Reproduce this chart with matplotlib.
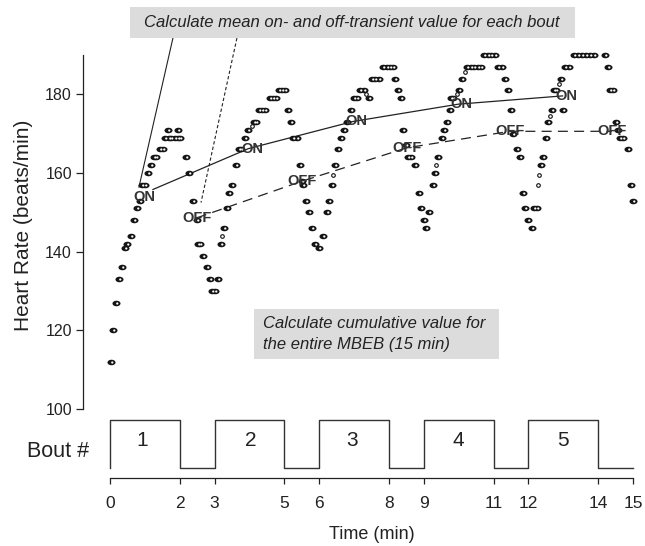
import matplotlib
matplotlib.use("Agg")
import matplotlib.pyplot as plt
from matplotlib.markers import MarkerStyle
from matplotlib.patches import Rectangle
from matplotlib.transforms import Affine2D

plt.rcParams['font.family'] = ['Liberation Sans', 'DejaVu Sans']

# heart rate samples (time in min, HR in beats/min)
time_min = [
    0.02, 0.09, 0.17, 0.27, 0.34, 0.43, 0.50, 0.59, 0.69, 0.78, 0.86, 0.92, 0.99,
    1.10, 1.18, 1.26, 1.33, 1.43, 1.51, 1.59, 1.66, 1.68, 1.76, 1.85, 1.94, 1.95, 2.02,
    2.18, 2.27, 2.37, 2.49, 2.51, 2.58, 2.68, 2.77, 2.87, 2.93, 3.00,
    3.11, 3.18, 3.28, 3.36, 3.42, 3.51, 3.60, 3.69, 3.76, 3.87, 3.97,
    4.13, 4.20, 4.27, 4.36, 4.45, 4.59, 4.67, 4.76, 4.85, 4.93, 5.03,
    5.11, 5.20, 5.26, 5.35, 5.45, 5.51, 5.54, 5.62, 5.70, 5.78, 5.88, 5.99,
    6.12, 6.21, 6.29, 6.36, 6.45, 6.53, 6.62, 6.70, 6.80, 6.91, 7.00, 7.08, 7.18, 7.27,
    7.42, 7.50, 7.61, 7.72, 7.82, 7.93, 8.03, 8.13,
    8.18, 8.27, 8.34, 8.41, 8.50, 8.56, 8.63, 8.75, 8.85, 8.93, 9.00, 9.06,
    9.16, 9.25, 9.32, 9.42, 9.51, 9.59, 9.66, 9.75, 9.79, 9.85, 10.01, 10.10,
    10.24, 10.34, 10.44, 10.54, 10.64, 10.73, 10.83, 10.93, 11.04,
    11.14, 11.24, 11.33, 11.41, 11.49, 11.56, 11.66, 11.76, 11.85, 11.91, 12.00, 12.09,
    12.16, 12.24, 12.35, 12.43, 12.49, 12.57, 12.68, 12.73, 12.80, 12.93, 13.00,
    13.06, 13.16, 13.31, 13.42, 13.54, 13.65, 13.77, 13.88,
    14.20, 14.27, 14.35, 14.43, 14.51, 14.57, 14.64, 14.71, 14.85, 14.93, 15.01,
]
heart_rate = [
    112, 120, 127, 133, 136, 141, 142, 144, 148, 151, 153, 157, 157,
    160, 162, 164, 164, 166, 166, 169, 171, 169, 169, 169, 169, 171, 169,
    164, 160, 153, 148, 142, 142, 139, 136, 133, 130, 130,
    133, 142, 146, 151, 155, 157, 162, 166, 166, 169, 171,
    173, 173, 176, 176, 176, 179, 179, 179, 181, 181, 181,
    176, 173, 169, 169, 162, 158, 157, 153, 150, 146, 142, 141,
    144, 150, 153, 157, 162, 166, 169, 171, 173, 176, 179, 179, 181, 181,
    179, 184, 184, 184, 187, 187, 187, 187,
    184, 181, 179, 171, 167, 164, 164, 162, 155, 151, 148, 146,
    150, 157, 160, 164, 169, 171, 173, 176, 179, 179, 181, 184,
    187, 187, 187, 187, 187, 190, 190, 190, 190,
    187, 187, 184, 181, 176, 170, 166, 164, 155, 151, 148, 146,
    151, 151, 162, 164, 169, 173, 176, 181, 181, 184, 176,
    187, 187, 190, 190, 190, 190, 190, 190,
    190, 187, 181, 181, 173, 171, 169, 169, 166, 157, 153,
]

# a few samples drawn as smaller open circles
small_time = [3.21, 4.06, 6.39, 7.34, 9.35, 9.94, 10.19, 12.28, 12.29, 12.62, 12.87]
small_hr = [144, 172, 159.6, 180, 162, 180, 185.6, 157, 159.5, 174.5, 182.6]

# mean on- and off-transient values per bout
on_time = [1.23, 3.97, 6.97, 9.99, 12.98]
on_hr = [155.8, 166.2, 173.1, 177.5, 179.6]
off_time = [2.49, 5.50, 8.51, 11.47, 14.39]
off_hr = [148.6, 157.9, 166.4, 170.6, 170.6]

# exercise bouts (start, end) in min
bouts = [(0, 2), (3, 5), (6, 8), (9, 11), (12, 14)]
bout_names = ['1', '2', '3', '4', '5']
bout_label_t = [0.92, 4.03, 6.95, 10.0, 13.0]
time_ticks = [0, 2, 3, 5, 6, 8, 9, 11, 12, 14, 15]

INK = '#222222'
TXT = '#333333'

fig = plt.figure(figsize=(6.45, 5.46), dpi=100)
W, H = 645.0, 546.0
PX = 34.87                     # pixels per minute
x_left = -27 / PX
x_right = 15.05
ax_w = (110 + x_right * PX - 83) / W

# --- heart rate panel ---
ax = fig.add_axes([83 / W, 1 - 409 / H, ax_w, 354 / H])
ax.set_xlim(x_left, x_right)
ax.set_ylim(100, 190)
for side in ['top', 'right', 'bottom']:
    ax.spines[side].set_visible(False)
ax.spines['left'].set_color(INK)
ax.spines['left'].set_linewidth(0.9)
ax.set_xticks([])
ax.set_yticks([100, 120, 140, 160, 180])
ax.tick_params(axis='y', length=5, width=0.9, colors=INK, labelsize=11.5, pad=3)
fig.text(24 / W, 1 - 225 / H, 'Heart Rate (beats/min)', rotation=90,
         ha='center', va='center', fontsize=15, color=INK)

# samples: dark ellipse with a small white dot
dot_out = MarkerStyle('o', transform=Affine2D().scale(1.45, 1.0))
dot_in = MarkerStyle('o', transform=Affine2D().translate(0.35, 0))
ax.plot(time_min, heart_rate, linestyle='none', marker=dot_out, ms=4.0,
        mfc='#151515', mec='none', zorder=3, clip_on=False)
ax.plot(time_min, heart_rate, linestyle='none', marker=dot_in, ms=1.6,
        mfc='white', mec='none', zorder=3, clip_on=False)
ax.plot(small_time, small_hr, linestyle='none', marker='o', ms=2.6,
        mfc='white', mec='#111111', mew=0.8, zorder=3)

ax.plot(on_time, on_hr, color=INK, lw=0.9, zorder=2)
ax.plot(off_time, off_hr, color=INK, lw=0.9, dashes=(8, 5), zorder=2)

ax.text(0.975, 154.0, 'ON', ha='center', va='center', fontsize=10.5,
        fontweight='bold', color=TXT, zorder=4)
for t, v in zip(on_time[1:], on_hr[1:]):
    ax.text(t + 0.1, v, 'ON', ha='center', va='center', fontsize=10.5,
            fontweight='bold', color=TXT, zorder=4)
for t, v in zip(off_time, off_hr):
    ax.text(t, v, 'OFF', ha='center', va='center', fontsize=10.5,
            fontweight='bold', color=TXT, zorder=4)

# callout lines from the top note
ax.plot([1.81, 0.83], [194.5, 156.4], color=INK, lw=0.8, clip_on=False)
ax.plot([3.64, 2.61], [194.3, 152.5], color=INK, lw=0.8, dashes=(3, 2),
        clip_on=False)

# --- bout panel ---
ax2 = fig.add_axes([83 / W, 1 - 477.7 / H, ax_w, 63 / H])
ax2.set_xlim(x_left, x_right)
ax2.set_ylim(-9.4 / 48, 53.6 / 48)
for side in ['top', 'right', 'left']:
    ax2.spines[side].set_visible(False)
ax2.spines['bottom'].set_bounds(0, 15)
ax2.spines['bottom'].set_color(INK)
ax2.spines['bottom'].set_linewidth(0.9)
ax2.set_yticks([])
ax2.set_xticks(time_ticks)
ax2.set_xticklabels([str(t) for t in time_ticks])
ax2.tick_params(axis='x', length=4, width=0.9, colors=INK, labelsize=12.5, pad=9)
ax2.set_xlabel('Time (min)', fontsize=13, color=INK)
ax2.xaxis.set_label_coords((7.5 - x_left) / (x_right - x_left), -0.76)

xs, ys = [0], [0]
for s, e in bouts:
    xs += [s, s, e, e]
    ys += [0, 1, 1, 0]
xs.append(15)
ys.append(0)
ax2.plot(xs, ys, color='#333333', lw=1.0, clip_on=False)

for t, name in zip(bout_label_t, bout_names):
    ax2.text(t, 0.575, name, ha='center', va='center', fontsize=15, color=INK)
ax2.text(-1.49, 0.35, 'Bout #', ha='center', va='center', fontsize=15.5,
         color=INK, clip_on=False)

# --- note boxes ---
fig.patches.append(Rectangle((130 / W, 1 - 37.5 / H), 445 / W, 30 / H,
                             transform=fig.transFigure, facecolor='#dcdcdc',
                             edgecolor='none', zorder=0))
fig.text(352 / W, 1 - 22.5 / H,
         'Calculate mean on- and off-transient value for each bout',
         ha='center', va='center', fontsize=12, style='italic', color=INK)

fig.patches.append(Rectangle((254 / W, 1 - 359 / H), 245 / W, 50 / H,
                             transform=fig.transFigure, facecolor='#dcdcdc',
                             edgecolor='none', zorder=0))
fig.text(263 / W, 1 - 324 / H, 'Calculate cumulative value for',
         ha='left', va='center', fontsize=12, style='italic', color=INK)
fig.text(263 / W, 1 - 345 / H, 'the entire MBEB (15 min)',
         ha='left', va='center', fontsize=12, style='italic', color=INK)

fig.savefig('out.png', dpi=100)
